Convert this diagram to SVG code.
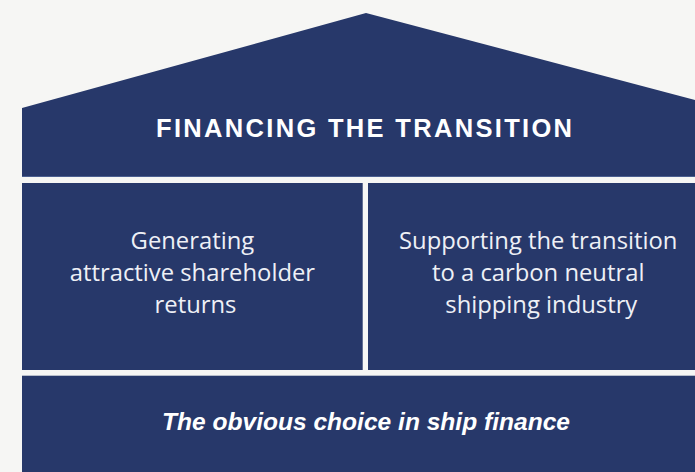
<svg xmlns="http://www.w3.org/2000/svg" width="695" height="472" viewBox="0 0 695 472">
  <style>
    .panel { fill: #27386a; }
    .title { font-family: "Liberation Sans", Arial, sans-serif; font-weight: bold; font-size: 25.5px; fill: #ffffff; }
    .body { font-family: "Open Sans", "Liberation Sans", sans-serif; font-size: 23.8px; fill: #eef0f6; }
    .motto { font-family: "Liberation Sans", Arial, sans-serif; font-weight: bold; font-style: italic; font-size: 24.5px; fill: #ffffff; }
  </style>
  <rect width="695" height="472" fill="#f6f6f4"/>

  <!-- roof with the headline band -->
  <g id="roof">
    <polygon class="panel" points="22,108 366,13 695,100 695,177 22,177"/>
    <line x1="22" y1="176.5" x2="695" y2="176.5" stroke="#4b5f90" stroke-width="1"/>
    <text class="title" x="156" y="136.5" textLength="416" lengthAdjust="spacing">FINANCING THE TRANSITION</text>
  </g>

  <!-- left pillar -->
  <g id="pillar-returns">
    <rect class="panel" x="22" y="183" width="340.7" height="187"/>
    <text class="body" text-anchor="middle">
      <tspan x="195.5" y="249">Generating</tspan>
      <tspan x="195.5" y="281">attractive shareholder</tspan>
      <tspan x="195.5" y="313">returns</tspan>
    </text>
  </g>

  <!-- right pillar -->
  <g id="pillar-transition">
    <rect class="panel" x="368" y="183" width="327" height="187"/>
    <text class="body" text-anchor="middle">
      <tspan x="541.3" y="249">Supporting the transition</tspan>
      <tspan x="541.3" y="281">to a carbon neutral</tspan>
      <tspan x="541.3" y="313">shipping industry</tspan>
    </text>
  </g>

  <!-- foundation -->
  <g id="foundation">
    <rect class="panel" x="22" y="375.7" width="673" height="96.3"/>
    <text class="motto" x="162" y="430" textLength="408" lengthAdjust="spacingAndGlyphs">The obvious choice in ship finance</text>
  </g>

  <g id="connectors"/>
</svg>
